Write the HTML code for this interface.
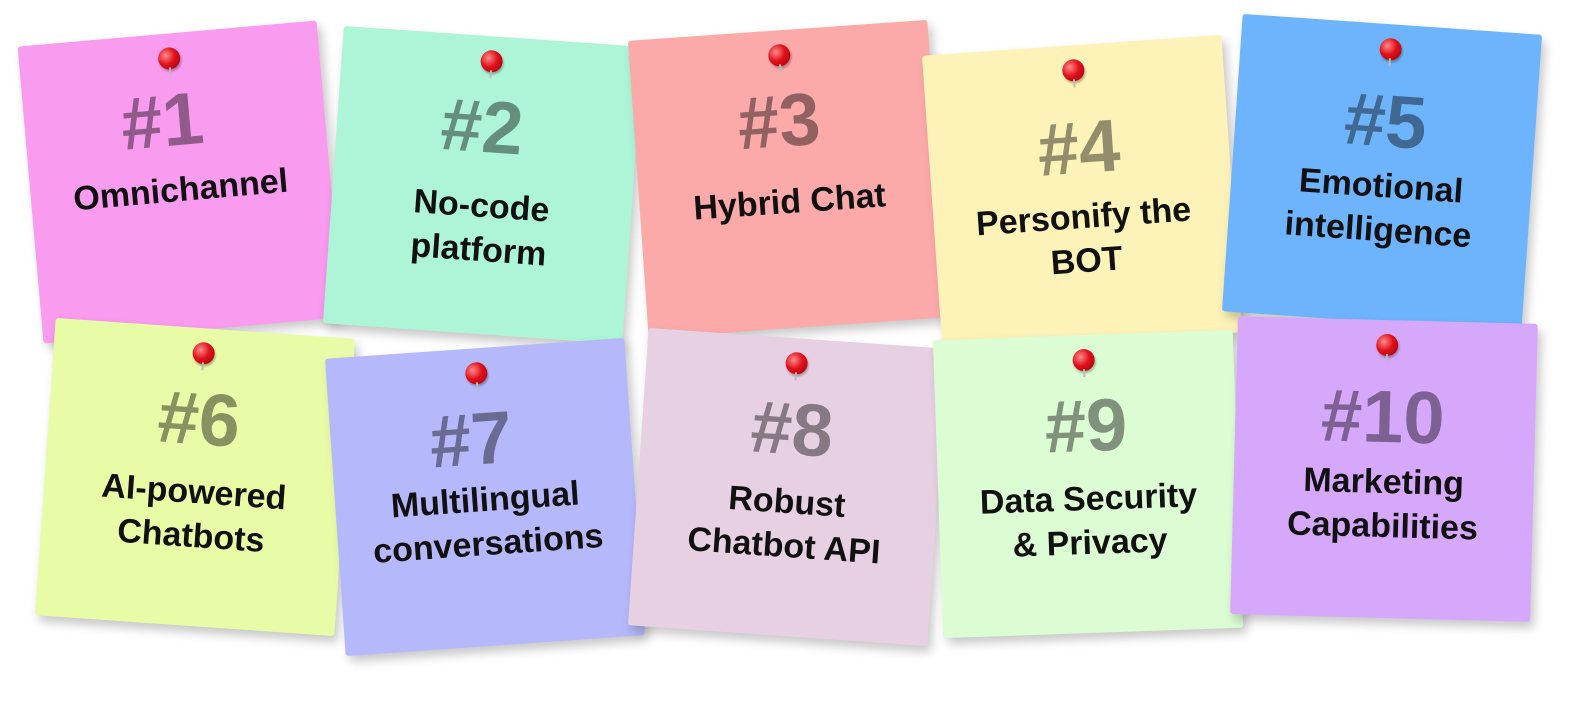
<!DOCTYPE html>
<html><head><meta charset="utf-8">
<style>
html,body{margin:0;padding:0;background:#fff;}
body{width:1582px;height:701px;position:relative;overflow:hidden;font-family:"Liberation Sans",sans-serif;}
.note{position:absolute;width:300px;height:298px;box-shadow:4px 6px 10px rgba(0,0,0,0.22);border-radius:3px;text-align:center;}
.pin{position:absolute;left:50%;top:14px;width:22px;height:22px;margin-left:-11px;border-radius:50%;
 background:radial-gradient(circle at 35% 35%,#ff8a8a 0%,#e0101a 45%,#9a0008 100%);box-shadow:1px 2px 2px rgba(0,0,0,0.3);}
.pin:after{content:"";position:absolute;left:10px;top:20px;width:2px;height:8px;background:#bbb;}
.num{position:absolute;left:0;right:0;top:54px;font-size:74px;font-weight:bold;color:rgba(0,0,0,0.42);line-height:1;}
.lab{position:absolute;left:0;right:0;top:142px;font-size:34px;font-weight:bold;color:#111;line-height:1.3;}
</style></head><body>
<div class="note" style="left:30px;top:33px;background:#f99bef;transform:rotate(-5deg);">
 <div class="pin"></div>
 <div class="num" style="margin-left:-25px;top:50px;">#1</div>
 <div class="lab" style="top:135px;">Omnichannel</div></div>
<div class="note" style="left:333px;top:36px;background:#aef5d8;transform:rotate(4deg);">
 <div class="pin"></div>
 <div class="num" style="margin-left:-10px;">#2</div>
 <div class="lab" style="top:148px;">No-code<br>platform</div></div>
<div class="note" style="left:638px;top:30px;background:#fca9a9;transform:rotate(-4deg);">
 <div class="pin"></div>
 <div class="num" style="margin-left:-10px;">#3</div>
 <div class="lab" style="top:150px;">Hybrid Chat</div></div>
<div class="note" style="left:932px;top:45px;background:#fdf3b8;transform:rotate(-4deg);">
 <div class="pin"></div>
 <div class="num" style="top:66px;">#4</div>
 <div class="lab" style="top:150px;">Personify the<br>BOT</div></div>
<div class="note" style="left:1232px;top:24px;background:#6eb4fc;transform:rotate(4deg);">
 <div class="pin"></div>
 <div class="num" style="top:60px;">#5</div>
 <div class="lab" style="top:140px;">Emotional<br>intelligence</div></div>
<div class="note" style="left:45px;top:328px;background:#e8fca8;transform:rotate(4deg);">
 <div class="pin"></div>
 <div class="num">#6</div>
 <div class="lab">AI-powered<br>Chatbots</div></div>
<div class="note" style="left:335px;top:348px;background:#b6b8fc;transform:rotate(-4deg);">
 <div class="pin"></div>
 <div class="num" style="margin-left:-20px;">#7</div>
 <div class="lab" style="top:130px;">Multilingual<br>conversations</div></div>
<div class="note" style="left:638px;top:338px;background:#e8d0e3;transform:rotate(4deg);">
 <div class="pin"></div>
 <div class="num">#8</div>
 <div class="lab">Robust<br>Chatbot API</div></div>
<div class="note" style="left:938px;top:335px;background:#dcfcd4;transform:rotate(-2deg);">
 <div class="pin"></div>
 <div class="num">#9</div>
 <div class="lab">Data Security<br>&amp; Privacy</div></div>
<div class="note" style="left:1234px;top:320px;background:#d6a8fc;transform:rotate(1.5deg);">
 <div class="pin"></div>
 <div class="num" style="margin-left:-5px;top:60px;">#10</div>
 <div class="lab" style="top:140px;">Marketing<br>Capabilities</div></div>
</body></html>
